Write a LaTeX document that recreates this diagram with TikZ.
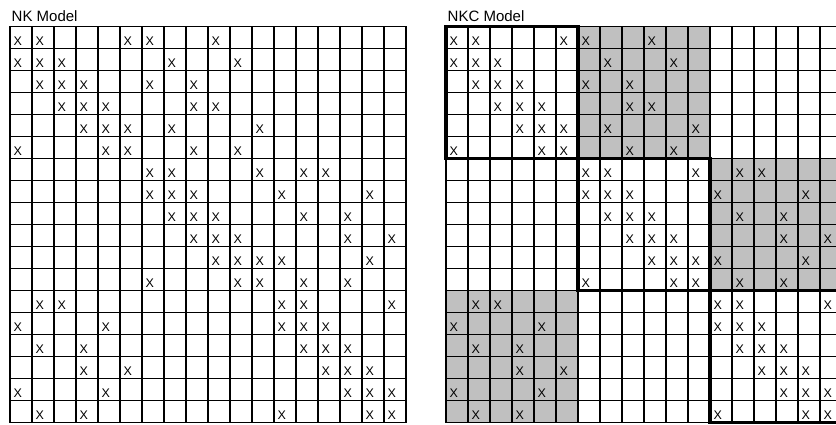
\documentclass[tikz,border=0pt]{standalone}
\usepackage{fontspec}
\setmainfont{Liberation Sans}
\definecolor{cellgray}{RGB}{192,192,192}
\begin{document}
\begin{tikzpicture}[x=1pt,y=-1pt,
  gridline/.style={line width=1.7pt,line cap=rect},
  blockline/.style={line width=3.8pt,line cap=rect},
  xmark/.style={anchor=base west,inner sep=0pt,font=\fontsize{12.5}{13}\selectfont},
  titletext/.style={anchor=base west,inner sep=0pt,font=\fontsize{15}{17}\selectfont}]
\useasboundingbox (0,0) rectangle (836,424);
\clip (0,0) rectangle (836,424);
% titles
\node[titletext] (t1) at (11.5,21.5) {NK Model};
\node[titletext] (t2) at (447.5,21.5) {NKC Model};
% gray blocks (NKC)
\fill[cellgray] (578,26.5) rectangle (710,158.5);
\fill[cellgray] (710,158.5) rectangle (842,290.5);
\fill[cellgray] (446,290.5) rectangle (578,422.5);
% grids
\foreach \xo in {10,446}{
  \foreach \i in {0,...,18}{
    \draw[gridline] ({\xo+22*\i},26.5) -- ({\xo+22*\i},422.5);
    \draw[gridline] (\xo,{26.5+22*\i}) -- ({\xo+396},{26.5+22*\i});
  }
}
% thick block borders (NKC)
\draw[blockline] (446,26.5) rectangle (578,158.5);
\draw[blockline] (578,158.5) rectangle (710,290.5);
\draw[blockline] (710,290.5) rectangle (842,422.5);
% marks
\foreach \r/\cols in {1/{1,2,6,7,10},2/{1,2,3,8,11},3/{2,3,4,7,9},4/{3,4,5,9,10},
  5/{4,5,6,8,12},6/{1,5,6,9,11},7/{7,8,12,14,15},8/{7,8,9,13,17},9/{8,9,10,14,16},
  10/{9,10,11,16,18},11/{10,11,12,13,17},12/{7,11,12,14,16},13/{2,3,13,14,18},
  14/{1,5,13,14,15},15/{2,4,14,15,16},16/{4,6,15,16,17},17/{1,5,16,17,18},
  18/{2,4,13,17,18}}{
  \foreach \c in \cols {
    \node[xmark] (L-\r-\c) at ({10+22*(\c-1)+3.3},{26.5+22*(\r-1)+19.2}) {X};
    \node[xmark] (R-\r-\c) at ({446+22*(\c-1)+3.3},{26.5+22*(\r-1)+19.2}) {X};
  }
}
\end{tikzpicture}
\end{document}
